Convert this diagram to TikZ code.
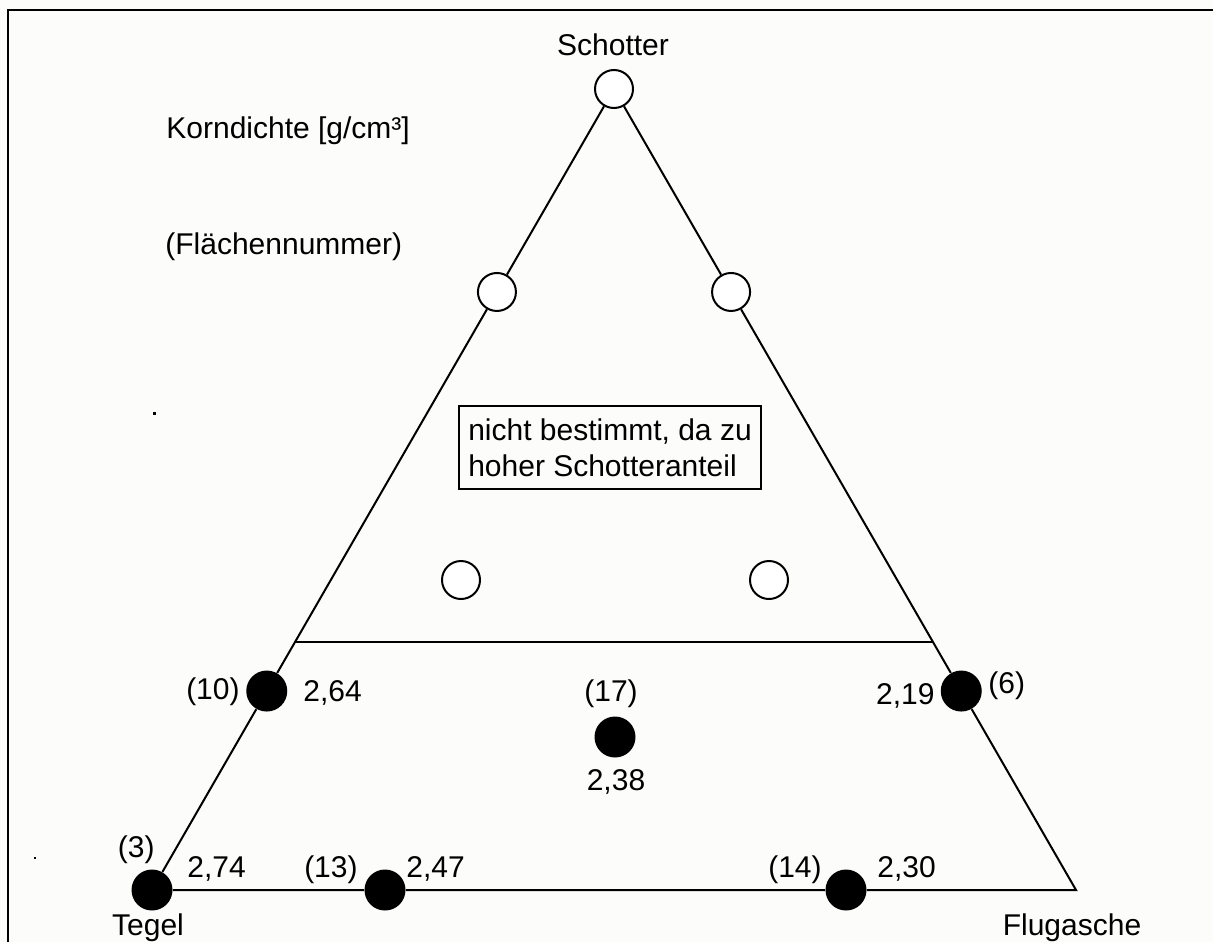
\documentclass[tikz,border=0pt]{standalone}
\usepackage{fontspec}
\setmainfont{Liberation Sans}
\usetikzlibrary{calc}
\definecolor{paper}{RGB}{252,252,250}
\tikzset{
  lbl/.style={inner sep=0pt, font=\fontsize{15}{18}\selectfont},
  hole/.style={circle, draw, line width=1pt, fill=white, minimum size=19pt, inner sep=0pt},
  dot/.style={circle, fill=black, minimum size=20.5pt, inner sep=0pt},
  edge/.style={line width=1pt},
}
\begin{document}
\begin{tikzpicture}[x=0.5pt,y=-0.5pt]
\fill[paper] (0,0) rectangle (1213,942);
\useasboundingbox (0,0) rectangle (1213,942);
% frame
\draw[line width=1pt] (8,942) -- (8,10) -- (1213,10);

% triangle corners
\coordinate (T) at (152,890);
\coordinate (A) at (614,89);
\coordinate (flug) at (1076,890);

% measuring points
\node[hole] (schotter) at (A) {};
\node[dot] (tegel) at (T) {};
\node[hole] (oL) at ($(T)!0.7466!(A)$) {};
\node[hole] (oR) at ($(flug)!0.7466!(A)$) {};
\node[dot] (p10) at ($(T)!0.2484!(A)$) {};
\node[dot] (p6) at ($(flug)!0.2484!(A)$) {};
\coordinate (hL) at ($(T)!0.3096!(A)$);
\coordinate (hR) at ($(flug)!0.3096!(A)$);
\node[hole] (iL) at (461,580) {};
\node[hole] (iR) at (769,580) {};
\node[dot] (p17) at (615,737) {};
\node[dot] (p13) at (385,890) {};
\node[dot] (p14) at (846,890) {};

% triangle sides
\draw[edge] (tegel) -- (p10) -- (oL) -- (schotter) -- (oR) -- (p6) -- (flug) -- (p14) -- (p13) -- (tegel);
\draw[edge] (hL) -- (hR);

% note box
\node[lbl, draw, line width=1pt, anchor=north west, align=left, inner xsep=3.5pt,
      minimum width=151pt, minimum height=41.5pt] (note) at (458,405)
      {nicht bestimmt, da zu\\hoher Schotteranteil};

% labels
\node[lbl, anchor=base] (tSchotter) at (613,55) {Schotter};
\node[lbl, anchor=base west] (tKorn) at (166,138) {Korndichte [g/cm³]};
\node[lbl, anchor=base west] (tFlaeche) at (165,254) {(Flächennummer)};
\node[lbl, anchor=base east] (l10) at (240,699) {(10)};
\node[lbl, anchor=base west] (v10) at (303,701) {2,64};
\node[lbl, anchor=base] (l17) at (611,701) {(17)};
\node[lbl, anchor=base] (v17) at (616,790) {2,38};
\node[lbl, anchor=base east] (v6) at (935,704) {2,19};
\node[lbl, anchor=base west] (l6) at (988,693) {(6)};
\node[lbl, anchor=base east] (l3) at (155,857) {(3)};
\node[lbl, anchor=base west] (v3) at (187,877) {2,74};
\node[lbl, anchor=base east] (l13) at (358,877) {(13)};
\node[lbl, anchor=base west] (v13) at (406,877) {2,47};
\node[lbl, anchor=base east] (l14) at (822,877) {(14)};
\node[lbl, anchor=base west] (v14) at (877,877) {2,30};
\node[lbl, anchor=base] (tTegel) at (148,935) {Tegel};
\node[lbl, anchor=base] (tFlug) at (1072,935) {Flugasche};

% specks
\fill (153,412) rectangle (156,415);
\fill (34,857) rectangle (36,859);
\end{tikzpicture}
\end{document}
